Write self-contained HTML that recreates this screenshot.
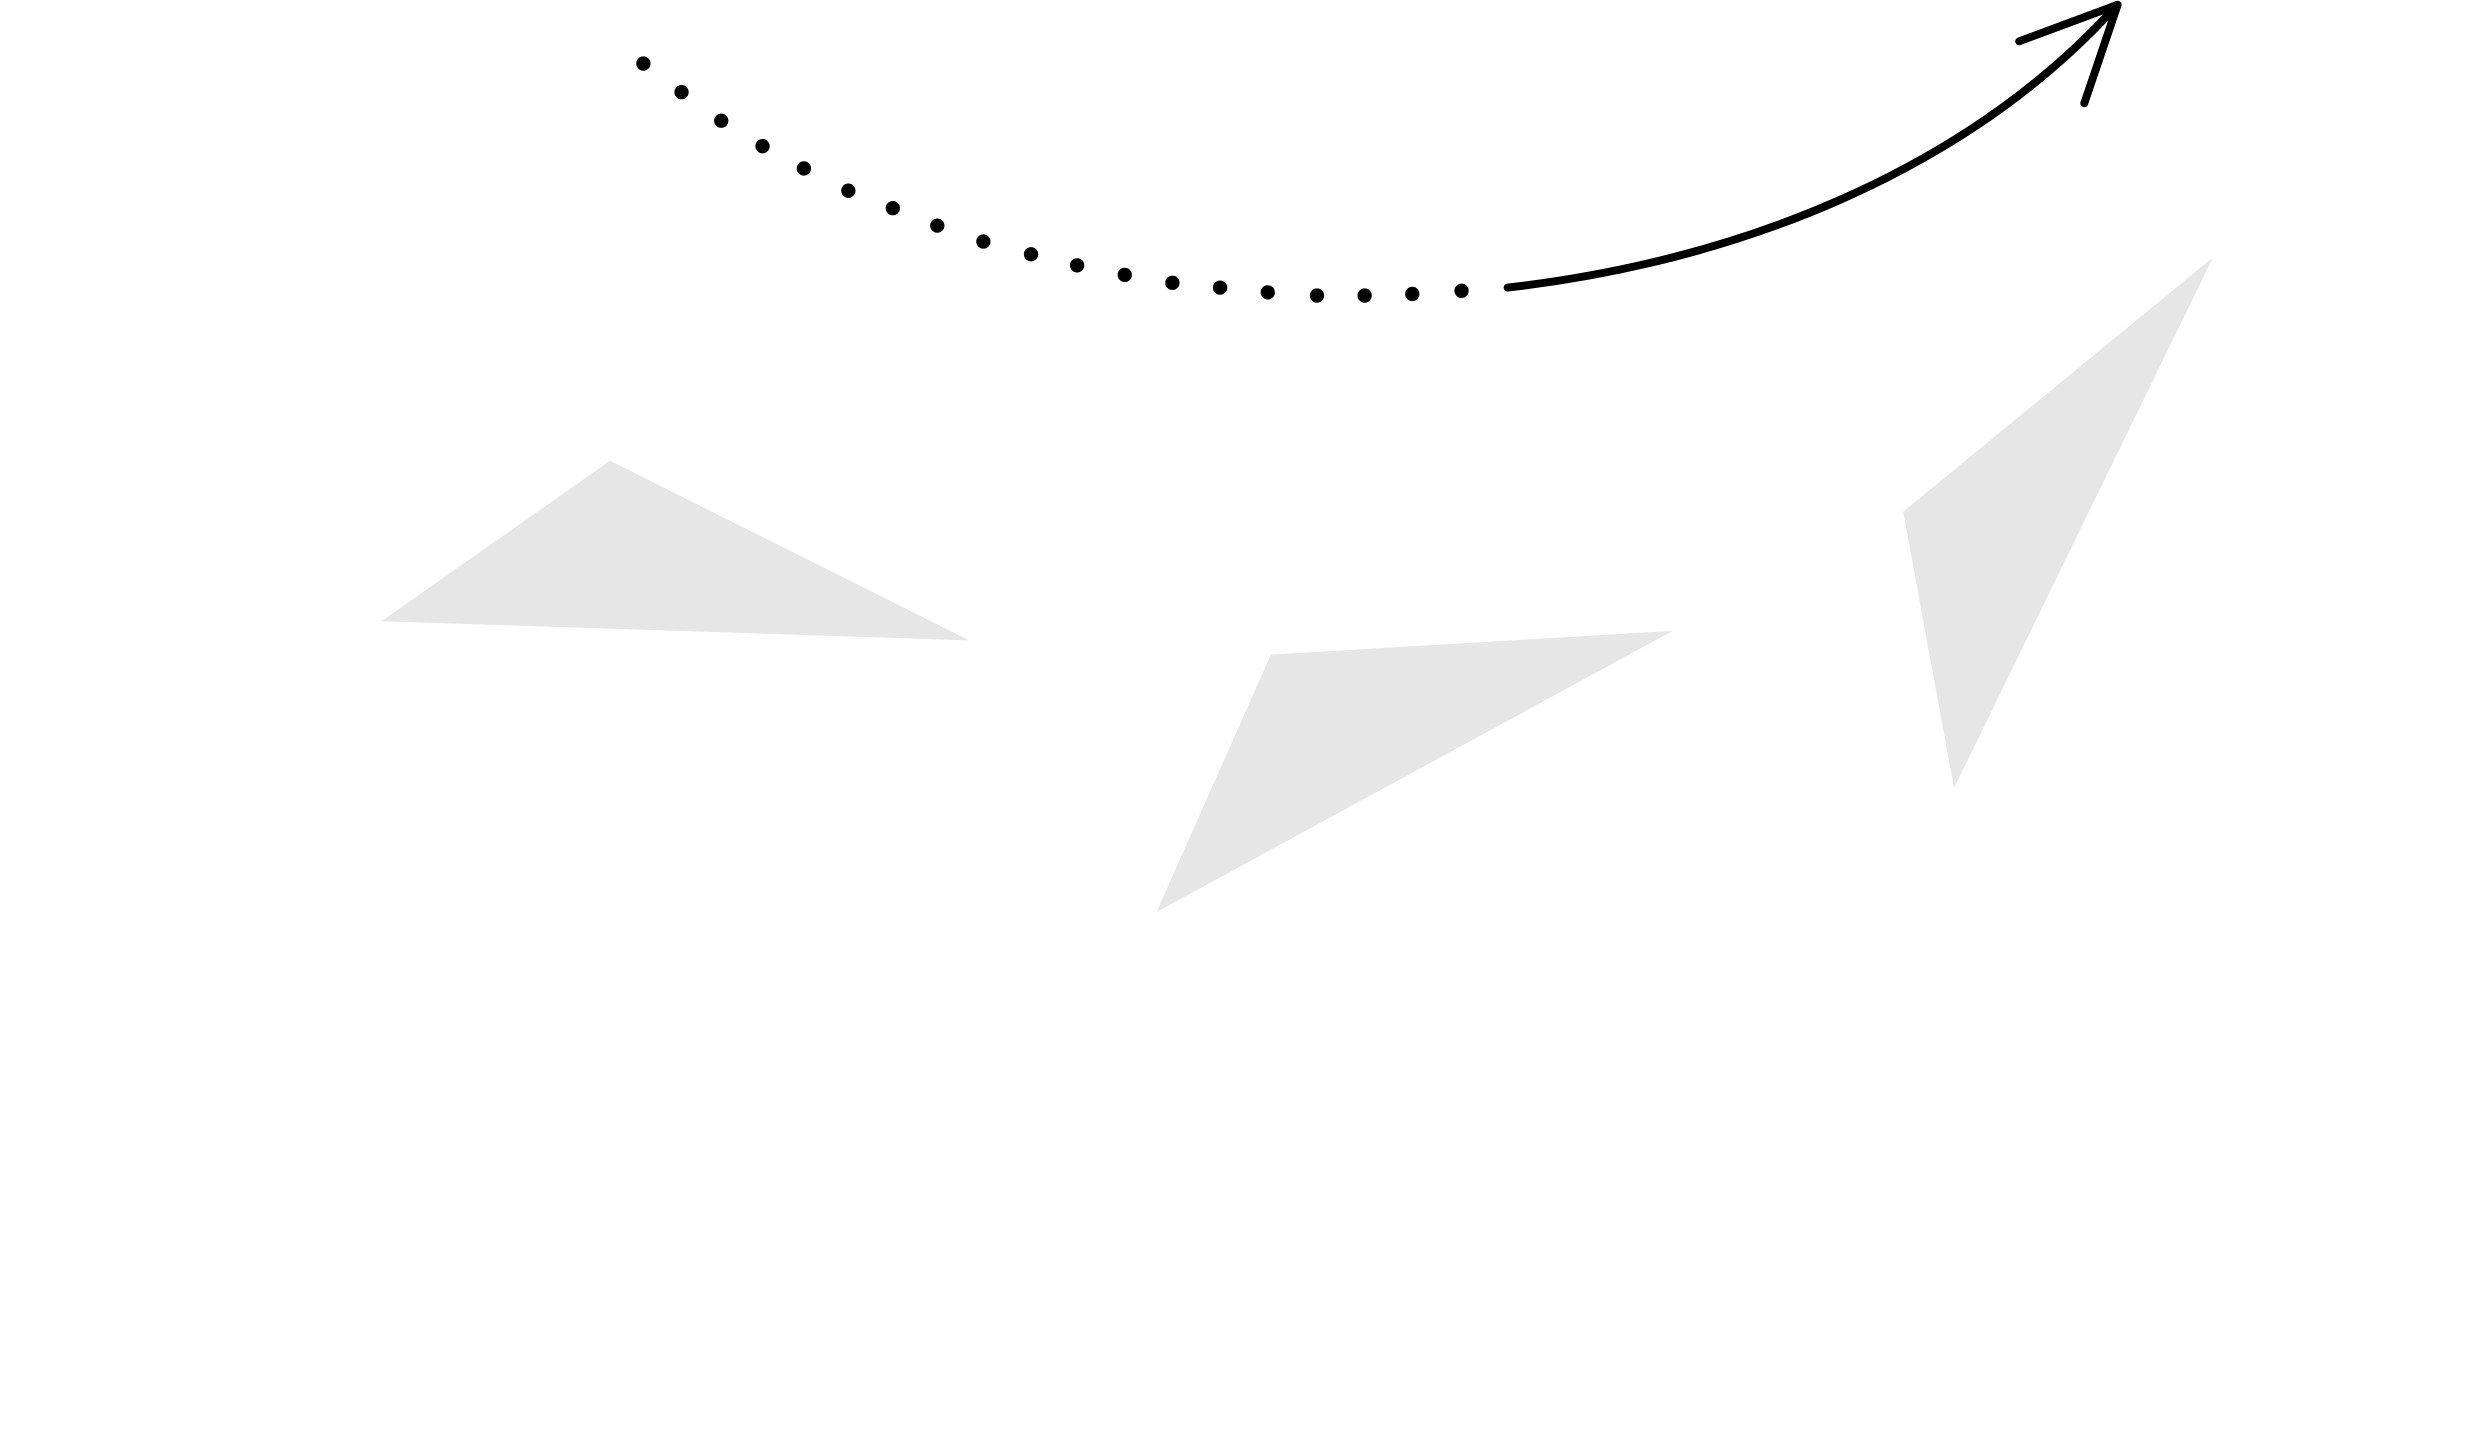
<!DOCTYPE html>
<html><head><meta charset="utf-8"><style>
html,body{margin:0;padding:0;background:#fff;width:2491px;height:1438px;overflow:hidden}
svg{display:block}
</style></head><body>
<svg width="2491" height="1438" viewBox="0 0 1568 905" preserveAspectRatio="none" xmlns="http://www.w3.org/2000/svg">
<rect width="1568" height="905" fill="#fff"/>
<polygon points="240,391 384,290 610,403" fill="#e6e6e6"/>
<polygon points="800,412 1053,397 728,574" fill="#e6e6e6"/>
<polygon points="1198,322 1393,162 1230,496" fill="#e6e6e6"/>
<g fill="#000">
<circle cx="405" cy="40" r="4.5"/><circle cx="429" cy="58" r="4.5"/><circle cx="454" cy="76" r="4.5"/>
<circle cx="480" cy="92" r="4.5"/><circle cx="506" cy="106" r="4.5"/><circle cx="534" cy="120" r="4.5"/>
<circle cx="562" cy="131" r="4.5"/><circle cx="590" cy="142" r="4.5"/><circle cx="619" cy="152" r="4.5"/>
<circle cx="649" cy="160" r="4.5"/><circle cx="678" cy="167" r="4.5"/><circle cx="708" cy="173" r="4.5"/>
<circle cx="738" cy="178" r="4.5"/><circle cx="768" cy="181" r="4.5"/><circle cx="798" cy="184" r="4.5"/>
<circle cx="829" cy="186" r="4.5"/><circle cx="859" cy="186" r="4.5"/><circle cx="889" cy="185" r="4.5"/>
<circle cx="920" cy="183" r="4.5"/>
</g>
<path d="M949,181 C1090,165 1235,110 1331,5" fill="none" stroke="#000" stroke-width="5" stroke-linecap="round"/>
<path d="M1271,26 L1333,3 L1312,65" fill="none" stroke="#000" stroke-width="5" stroke-linecap="round" stroke-linejoin="round"/>
</svg>
</body></html>
